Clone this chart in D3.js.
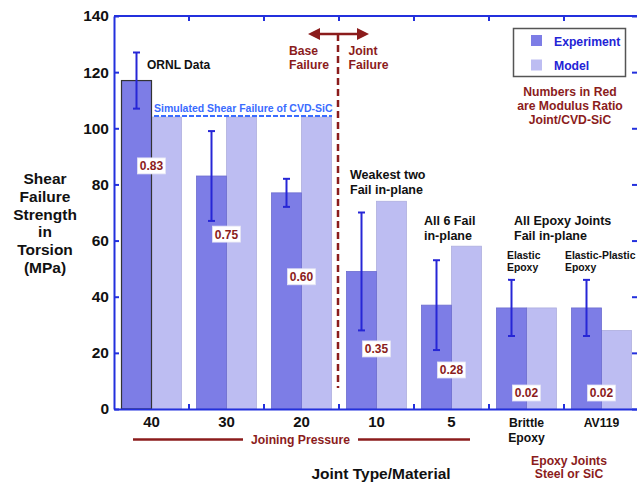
<!DOCTYPE html>
<html>
<head>
<meta charset="utf-8">
<script src="https://cdn.jsdelivr.net/npm/d3@7"></script>
<style>
  html, body { margin: 0; padding: 0; background: #fff; }
  svg { display: block; font-family: "Liberation Sans", Arial, sans-serif; font-weight: bold; }
</style>
</head>
<body>
<svg id="chart" width="637" height="482"></svg>
<script>
// ---------------- data ----------------
const categories = ["40", "30", "20", "10", "5", "Brittle Epoxy", "AV119"];
const experiment = [117, 83, 77, 49, 37, 36, 36];
const expErrLow  = [107, 67, 72, 28, 21, 26, 26];
const expErrHigh = [127, 99, 82, 70, 53, 46, 46];
const model      = [104, 104, 104, 74, 58, 36, 28];
const modulusRatio = ["0.83", "0.75", "0.60", "0.35", "0.28", "0.02", "0.02"];
const yTicks = [0, 20, 40, 60, 80, 100, 120, 140];
const seriesNames = ["Experiment", "Model"];
const simulatedCvdSic = 104.4;

// ---------------- layout / style ----------------
const W = 637, H = 482;
const plot = { left: 114, right: 639, top: 16, bottom: 409 };
const ratioLabelAt = [86.6, 62.3, 47.1, 21.4, 13.9, 5.7, 5.7]; // label centre (data units)
const axisBlue = "#2330dd";
const errBlue = "#2626d6";
const maroon = "#8b1c1c";
const expColor = "#7d7de6";
const modelColor = "#bdbdf2";

const svg = d3.select("#chart");

const x0 = d3.scaleBand().domain(categories)
  .range([plot.left, plot.right]).paddingInner(0.2).paddingOuter(0.1);
const x1 = d3.scaleBand().domain(seriesNames).range([0, x0.bandwidth()]);
const y = d3.scaleLinear().domain([0, 140]).range([plot.bottom, plot.top]);

const rows = categories.map((c, i) => ({
  cat: c, exp: experiment[i], lo: expErrLow[i], hi: expErrHigh[i],
  model: model[i], ratio: modulusRatio[i], ratioY: ratioLabelAt[i], i
}));
const boundaries = categories.slice(1).map(c => x0(c) - x0.step() * x0.paddingInner() / 2);

// ---------------- bars ----------------
const g = svg.append("g");
g.selectAll("rect.model").data(rows).enter().append("rect")
  .attr("class", "model")
  .attr("x", d => x0(d.cat) + x1("Model"))
  .attr("y", d => y(d.model))
  .attr("width", x1.bandwidth())
  .attr("height", d => y(0) - y(d.model))
  .attr("fill", modelColor)
  .attr("stroke", "#aeaede").attr("stroke-width", 0.8);

g.selectAll("rect.exp").data(rows).enter().append("rect")
  .attr("class", "exp")
  .attr("x", d => x0(d.cat) + x1("Experiment"))
  .attr("y", d => y(d.exp))
  .attr("width", x1.bandwidth())
  .attr("height", d => y(0) - y(d.exp))
  .attr("fill", expColor)
  .attr("stroke", d => d.i === 0 ? "#333" : "#6d6dcf")
  .attr("stroke-width", d => d.i === 0 ? 1.2 : 0.8);

// ---------------- error bars ----------------
const eb = g.selectAll("g.err").data(rows).enter().append("g")
  .attr("transform", d => `translate(${x0(d.cat) + x1("Experiment") + x1.bandwidth() / 2},0)`)
  .attr("stroke", errBlue).attr("stroke-width", 2);
eb.append("line").attr("y1", d => y(d.lo)).attr("y2", d => y(d.hi));
eb.append("line").attr("x1", -3.5).attr("x2", 3.5).attr("y1", d => y(d.hi)).attr("y2", d => y(d.hi));
eb.append("line").attr("x1", -3.5).attr("x2", 3.5).attr("y1", d => y(d.lo)).attr("y2", d => y(d.lo));

// ---------------- modulus ratio labels ----------------
const rl = g.selectAll("g.ratio").data(rows).enter().append("g")
  .attr("transform", d => `translate(${x0(d.cat) + x0.bandwidth() / 2},${y(d.ratioY)})`);
rl.append("rect").attr("x", -14).attr("y", -8).attr("width", 28).attr("height", 16)
  .attr("fill", "#fff").attr("stroke", "#e4e4f4").attr("stroke-width", 0.8);
rl.append("text").attr("text-anchor", "middle").attr("y", 4.5)
  .attr("font-size", 12).attr("fill", maroon).text(d => d.ratio);

// ---------------- simulated CVD-SiC line ----------------
svg.append("line")
  .attr("x1", 154).attr("x2", 332)
  .attr("y1", y(simulatedCvdSic)).attr("y2", y(simulatedCvdSic))
  .attr("stroke", "#3a6cff").attr("stroke-width", 2).attr("stroke-dasharray", "5,2");
svg.append("text").attr("x", 154).attr("y", y(simulatedCvdSic) - 4)
  .attr("font-size", 10.5).attr("fill", "#3a6cff")
  .text("Simulated Shear Failure of CVD-SiC");

// ---------------- axes ----------------
const axisStyle = sel => {
  sel.selectAll("path, line").attr("stroke", axisBlue).attr("stroke-width", 2);
  sel.select(".domain").attr("stroke-width", 2);
  sel.selectAll("text").attr("fill", "#111").attr("font-family", "Liberation Sans, Arial, sans-serif")
    .attr("font-weight", "bold");
};

const yAxis = svg.append("g").attr("transform", `translate(${plot.left},0)`)
  .call(d3.axisLeft(y).tickValues(yTicks).tickSizeInner(-5).tickSizeOuter(0).tickPadding(5));
axisStyle(yAxis);
yAxis.selectAll("text").attr("font-size", 15.5);

const yAxisR = svg.append("g").attr("transform", `translate(${plot.right - 0.5},0)`)
  .call(d3.axisRight(y).tickValues(yTicks).tickSizeInner(-6.5).tickSizeOuter(0).tickFormat(""));
axisStyle(yAxisR);

// top border
svg.append("line").attr("x1", plot.left).attr("x2", plot.right)
  .attr("y1", plot.top).attr("y2", plot.top).attr("stroke", axisBlue).attr("stroke-width", 2);
svg.selectAll("line.ttick").data(boundaries).enter().append("line")
  .attr("x1", d => d).attr("x2", d => d).attr("y1", plot.top).attr("y2", plot.top + 5)
  .attr("stroke", axisBlue).attr("stroke-width", 2);

const xAxis = svg.append("g").attr("transform", `translate(0,${plot.bottom})`)
  .call(d3.axisBottom(x0).tickSize(0).tickPadding(7));
axisStyle(xAxis);
xAxis.selectAll(".tick text").each(function (d) {
  const t = d3.select(this);
  const numeric = !isNaN(+d);
  t.attr("font-size", numeric ? 15 : 12.2);
  if (d.indexOf(" ") >= 0) {
    const parts = d.split(" ");
    t.text(null).attr("dy", null).attr("y", 18);
    parts.forEach((p, k) => t.append("tspan").attr("x", 0).attr("dy", k === 0 ? 0 : 14.5).text(p));
  } else if (!numeric) {
    t.attr("dy", null).attr("y", 18);
  }
});
svg.selectAll("line.btick").data(boundaries).enter().append("line")
  .attr("x1", d => d).attr("x2", d => d).attr("y1", plot.bottom).attr("y2", plot.bottom - 5)
  .attr("stroke", axisBlue).attr("stroke-width", 2);

// ---------------- axis titles ----------------
const yTitle = ["Shear", "Failure", "Strength", "in", "Torsion", "(MPa)"];
svg.append("g").selectAll("text").data(yTitle).enter().append("text")
  .attr("x", 45).attr("y", (d, i) => 184 + i * 17.8)
  .attr("text-anchor", "middle").attr("font-size", 15.5).attr("fill", "#111").text(d => d);

svg.append("text").attr("x", 381).attr("y", 478.5).attr("text-anchor", "middle")
  .attr("font-size", 15.5).attr("fill", "#111").text("Joint Type/Material");

// Joining pressure bracket
svg.append("line").attr("x1", 133).attr("x2", 243).attr("y1", 439.5).attr("y2", 439.5)
  .attr("stroke", maroon).attr("stroke-width", 2.5);
svg.append("line").attr("x1", 358).attr("x2", 470).attr("y1", 439.5).attr("y2", 439.5)
  .attr("stroke", maroon).attr("stroke-width", 2.5);
svg.append("text").attr("x", 300.5).attr("y", 443.5).attr("text-anchor", "middle")
  .attr("font-size", 12.2).attr("fill", maroon).text("Joining Pressure");

svg.append("g").selectAll("text").data(["Epoxy Joints", "Steel or SiC"]).enter().append("text")
  .attr("x", 569).attr("y", (d, i) => 465 + i * 13).attr("text-anchor", "middle")
  .attr("font-size", 12.2).attr("fill", maroon).text(d => d);

// ---------------- base / joint failure divider ----------------
const divX = boundaries[2] - 1;
svg.append("line").attr("x1", divX).attr("x2", divX).attr("y1", 34).attr("y2", 388)
  .attr("stroke", maroon).attr("stroke-width", 2.5).attr("stroke-dasharray", "7,4");
svg.append("line").attr("x1", 316).attr("x2", 361).attr("y1", 34).attr("y2", 34)
  .attr("stroke", maroon).attr("stroke-width", 2.5);
svg.append("path").attr("d", "M308,34 L320,28 L320,40 Z").attr("fill", maroon);
svg.append("path").attr("d", "M369,34 L357,28 L357,40 Z").attr("fill", maroon);

const note = (x, y0, lines, size, color, dy, anchor) => {
  svg.append("g").selectAll("text").data(lines).enter().append("text")
    .attr("x", x).attr("y", (d, i) => y0 + i * dy)
    .attr("text-anchor", anchor || "start")
    .attr("font-size", size).attr("fill", color).text(d => d);
};
note(289, 54.5, ["Base", "Failure"], 12.2, maroon, 14);
note(348.5, 54.5, ["Joint", "Failure"], 12.2, maroon, 14);
note(147, 69, ["ORNL Data"], 12, "#111", 14);
note(350, 179, ["Weakest two", "Fail in-plane"], 12.5, "#111", 14.5);
note(424, 225, ["All 6 Fail", "in-plane"], 12.5, "#111", 14.5);
note(514, 225, ["All Epoxy Joints", "Fail in-plane"], 12.5, "#111", 14.5);
note(507, 259.3, ["Elastic", "Epoxy"], 10.4, "#111", 11.7);
note(565, 259.3, ["Elastic-Plastic", "Epoxy"], 10.4, "#111", 11.7);
note(570, 95.7, ["Numbers in Red", "are Modulus Ratio", "Joint/CVD-SiC"], 12.2, maroon, 14.2, "middle");

// ---------------- legend ----------------
const lg = svg.append("g");
lg.append("rect").attr("x", 513.5).attr("y", 28.5).attr("width", 112).attr("height", 48)
  .attr("fill", "#fff").attr("stroke", "#555").attr("stroke-width", 1.5);
const li = lg.selectAll("g.li").data(seriesNames).enter().append("g")
  .attr("transform", (d, i) => `translate(531,${35 + i * 24.5})`);
li.append("rect").attr("width", 11).attr("height", 11)
  .attr("fill", (d, i) => i === 0 ? expColor : modelColor);
li.append("text").attr("x", 23).attr("y", 10.5).attr("font-size", 12.2)
  .attr("fill", "#2323d6").text(d => d);
</script>
</body>
</html>
